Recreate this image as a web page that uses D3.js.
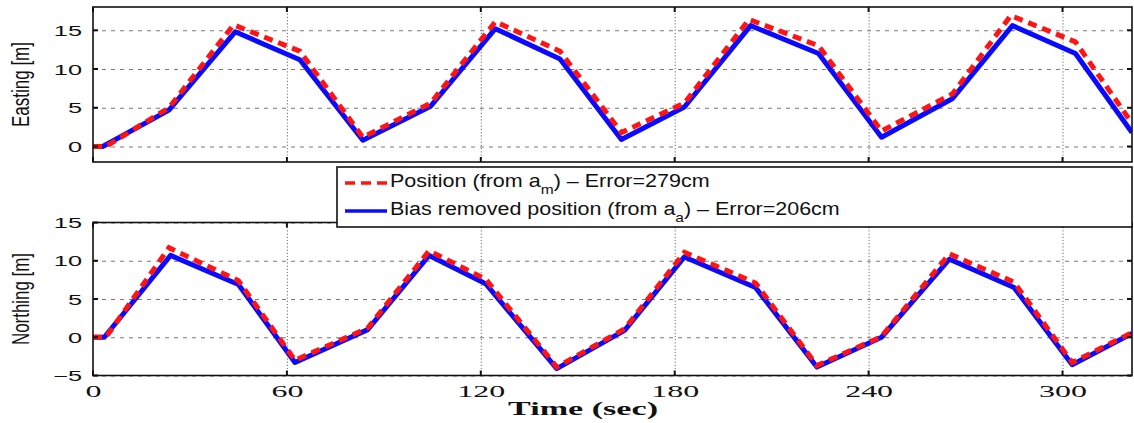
<!DOCTYPE html>
<html>
<head>
<meta charset="utf-8">
<script src="https://cdn.jsdelivr.net/npm/d3@7/dist/d3.min.js"></script>
<style>
  html, body { margin: 0; padding: 0; background: #ffffff; }
  svg { display: block; }
</style>
</head>
<body>
<svg id="chart" width="1134" height="423"></svg>
<script>
// ---------------- DATA ----------------
const timeTicks = [0, 60, 120, 180, 240, 300];
const eastingTicks = [0, 5, 10, 15];
const northingTicks = [-5, 0, 5, 10, 15];

// Easting [m] — time (s), value (m)
const eastingPosT   = [0, 4, 23.5, 43.5, 64, 83.5, 104.5, 124.5, 144.5, 163.5, 183, 203, 224.5, 244, 266, 284, 304, 321.5];
const eastingPosV   = [0, 0, 5.0, 15.7, 12.3, 1.2, 5.6, 16.1, 12.3, 1.8, 5.6, 16.4, 13.0, 2.0, 6.8, 16.9, 13.5, 3.0];
const eastingBiasT  = [0, 3, 23.5, 44, 64, 83.5, 104.5, 124.5, 144.5, 163.5, 183, 203.5, 224.5, 244, 266, 284.5, 304, 321.5];
const eastingBiasV  = [0, 0, 4.7, 14.8, 11.2, 0.8, 5.2, 15.2, 11.3, 0.9, 5.1, 15.6, 12.0, 1.2, 6.2, 15.6, 12.0, 1.8];

// Northing [m]
const northingPosT  = [0, 4, 23.5, 45, 62.5, 85, 104, 121.5, 143.5, 164.5, 183, 205, 224, 244, 265, 285, 303, 321.5];
const northingPosV  = [0, 0, 11.7, 7.4, -3.0, 1.2, 11.3, 7.6, -3.9, 1.1, 11.1, 7.1, -3.7, 0.1, 10.9, 7.2, -3.3, 0.6];
const northingBiasT = [0, 3.5, 24, 45, 62.5, 85, 104, 121.5, 143.5, 164.5, 183, 205, 224, 244, 265, 285, 303, 321.5];
const northingBiasV = [0, 0, 10.7, 6.9, -3.3, 1.0, 10.7, 7.0, -4.1, 0.9, 10.5, 6.5, -3.9, 0.0, 10.2, 6.5, -3.6, 0.5];

const legendLabels = [
  { pre: "Position (from a", sub: "m", post: ") \u2013 Error=279cm" },
  { pre: "Bias removed position (from a", sub: "a", post: ") \u2013 Error=206cm" }
];
const yLabels = ["Easting [m]", "Northing [m]"];
const xLabel = "Time (sec)";

// ---------------- DRAW ----------------
const svg = d3.select("#chart");
const RED = "#ff1414", BLUE = "#0a0aff";

const left = 93, right = 1132;
const x = d3.scaleLinear().domain([0, 321.5]).range([left, right]);

const panels = [
  { top: 7, bottom: 162, domain: [-2, 18], ticks: eastingTicks, label: yLabels[0], labelLen: 85,
    red: d3.zip(eastingPosT, eastingPosV), blue: d3.zip(eastingBiasT, eastingBiasV), xLabels: false },
  { top: 222.5, bottom: 375.5, domain: [-5, 15], ticks: northingTicks, label: yLabels[1], labelLen: 92,
    red: d3.zip(northingPosT, northingPosV), blue: d3.zip(northingBiasT, northingBiasV), xLabels: true }
];

const sansFont = "'Liberation Sans', Arial, Helvetica, sans-serif";
const serifFont = "'Liberation Serif', 'Times New Roman', serif";

panels.forEach((p, i) => {
  const y = d3.scaleLinear().domain(p.domain).range([p.bottom, p.top]);
  const g = svg.append("g");
  const h = p.bottom - p.top;
  const clipId = "clip" + i;
  svg.append("clipPath").attr("id", clipId)
    .append("rect").attr("x", left).attr("y", p.top).attr("width", right - left).attr("height", h);

  // horizontal grid
  const gy = g.append("g").attr("transform", `translate(${left},0)`)
    .call(d3.axisLeft(y).tickValues(p.ticks).tickSize(-(right - left)).tickFormat(""));
  gy.select(".domain").remove();
  gy.selectAll("line").attr("stroke", "#7a7a7a").attr("stroke-width", 1.1).attr("stroke-dasharray", "4,5");

  // vertical grid
  const gx = g.append("g").attr("transform", `translate(0,${p.bottom})`)
    .call(d3.axisBottom(x).tickValues(timeTicks.filter(t => t > 0)).tickSize(-h).tickFormat(""));
  gx.select(".domain").remove();
  gx.selectAll("line").attr("stroke", "#7a7a7a").attr("stroke-width", 1.1).attr("stroke-dasharray", "1.2,2");

  // lines
  const line = d3.line().x(d => x(d[0])).y(d => y(d[1]));
  const lg = g.append("g").attr("clip-path", `url(#${clipId})`);
  lg.append("path").datum(p.blue).attr("d", line).attr("fill", "none")
    .attr("stroke", BLUE).attr("stroke-width", 5).attr("stroke-linejoin", "round");
  lg.append("path").datum(p.red).attr("d", line).attr("fill", "none")
    .attr("stroke", RED).attr("stroke-width", 5).attr("stroke-dasharray", "9,6");

  // frame
  g.append("rect").attr("x", left).attr("y", p.top).attr("width", right - left).attr("height", h)
    .attr("fill", "none").attr("stroke", "#111").attr("stroke-width", 1.6);

  // tick marks (inward, all sides)
  const tk = g.append("g").attr("stroke", "#111").attr("stroke-width", 2);
  timeTicks.forEach(t => {
    tk.append("line").attr("x1", x(t)).attr("x2", x(t)).attr("y1", p.bottom).attr("y2", p.bottom - 5);
    tk.append("line").attr("x1", x(t)).attr("x2", x(t)).attr("y1", p.top).attr("y2", p.top + 5);
  });
  p.ticks.forEach(v => {
    tk.append("line").attr("x1", left).attr("x2", left + 5).attr("y1", y(v)).attr("y2", y(v));
    tk.append("line").attr("x1", right).attr("x2", right - 5).attr("y1", y(v)).attr("y2", y(v));
  });

  // y tick labels
  const sy = 1.75;
  const ay = g.append("g").attr("transform", `translate(${left},0)`)
    .call(d3.axisLeft(y).tickValues(p.ticks).tickSize(0).tickFormat(d3.format("d")));
  ay.select(".domain").remove();
  ay.selectAll("text")
    .attr("font-family", sansFont).attr("font-size", 14.5).attr("fill", "#111")
    .attr("x", -11 / sy).attr("dy", "0.36em")
    .attr("transform", `scale(${sy},1)`);

  // y label (rotated, compressed along reading direction)
  const cy = (p.top + p.bottom) / 2;
  const yl = svg.append("g").attr("transform", `translate(29,${cy}) rotate(-90)`);
  const ylt = yl.append("text").text(p.label).attr("text-anchor", "middle")
    .attr("font-family", sansFont).attr("font-size", 23).attr("fill", "#111");
  const ylw = ylt.node().getComputedTextLength();
  ylt.attr("transform", `scale(${p.labelLen / ylw},1)`);

  // x tick labels
  if (p.xLabels) {
    const sx = 2.0;
    const ax = g.append("g").attr("transform", `translate(0,${p.bottom})`)
      .call(d3.axisBottom(x).tickValues(timeTicks).tickSize(0).tickFormat(d3.format("d")));
    ax.select(".domain").remove();
    ax.selectAll(".tick").each(function(d) {
      const t = d3.select(this).select("text");
      t.attr("font-family", serifFont).attr("font-size", 16).attr("fill", "#111")
        .attr("y", 21.5).attr("dy", "0").attr("x", 0)
        .attr("transform", `scale(${sx},1)`);
    });
  }
});

// x axis title
const xt = svg.append("g").attr("transform", "translate(583,415)");
const xtt = xt.append("text").text(xLabel).attr("text-anchor", "middle")
  .attr("font-family", serifFont).attr("font-weight", "bold").attr("font-size", 19).attr("fill", "#111");
xtt.attr("transform", `scale(${150 / xtt.node().getComputedTextLength()},1)`);

// legend
const lgd = svg.append("g");
lgd.append("rect").attr("x", 337).attr("y", 167).attr("width", 1132 - 337).attr("height", 60)
  .attr("fill", "#fff").attr("stroke", "#111").attr("stroke-width", 1.6);
const rows = [
  { color: RED, dash: "10,6", lineY: 183, base: 186.5, target: 320 },
  { color: BLUE, dash: null, lineY: 211, base: 214.5, target: 450 }
];
rows.forEach((r, i) => {
  lgd.append("line").attr("x1", 345).attr("x2", 387).attr("y1", r.lineY).attr("y2", r.lineY)
    .attr("stroke", r.color).attr("stroke-width", 3.5).attr("stroke-dasharray", r.dash);
  const tg = lgd.append("g").attr("transform", `translate(390,${r.base})`);
  const t = tg.append("text").attr("font-family", sansFont).attr("font-size", 18).attr("fill", "#111");
  t.append("tspan").text(legendLabels[i].pre);
  t.append("tspan").text(legendLabels[i].sub).attr("font-size", 13).attr("dy", 7);
  t.append("tspan").text(legendLabels[i].post).attr("dy", -7);
  const w = t.node().getComputedTextLength();
  t.attr("transform", `scale(${r.target / w},1)`);
});
</script>
</body>
</html>
